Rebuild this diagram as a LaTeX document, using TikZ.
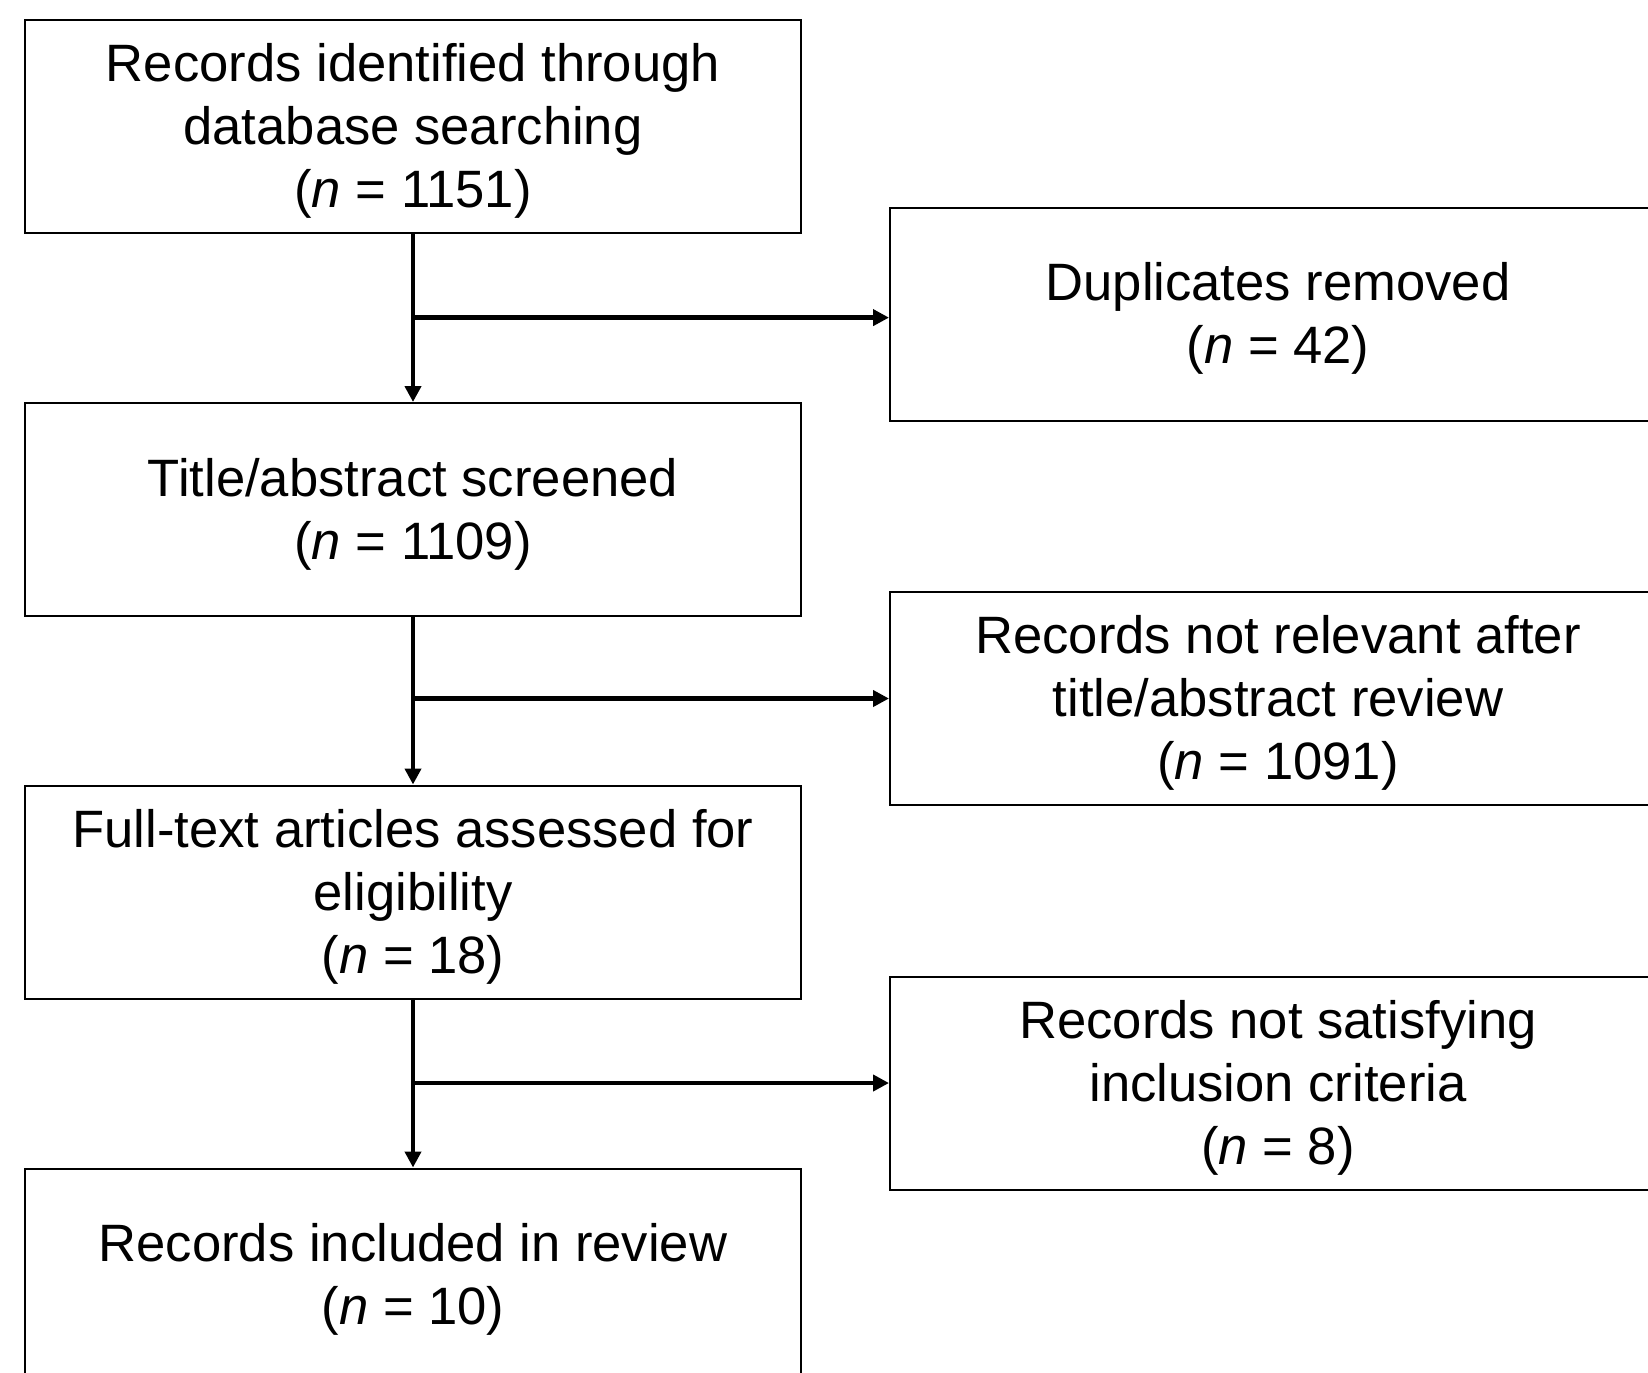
\documentclass[tikz,border=0pt]{standalone}
\usepackage{fontspec}
\setmainfont{Liberation Sans}
\usetikzlibrary{arrows.meta}
\begin{document}
\begin{tikzpicture}[x=0.5pt,y=-0.5pt,
  boxnode/.style={draw=black, line width=1pt, fill=white, minimum width=388pt, minimum height=106.5pt,
    inner sep=0pt},
  boxtext/.style={align=center, inner sep=0pt, yshift=-2.4pt, font=\fontsize{26.3}{31.5}\selectfont},
  flow/.style={line width=2.4pt, -{Triangle[length=8pt,width=8pt]}}]
\clip (0,0) rectangle (1648,1372);
\fill[white] (0,0) rectangle (1648,1372);
\node[boxnode, label={[boxtext]center:Records identified through\\database searching\\(\textit{n} = 1151)}] (b1) at (413,126.5) {};
\node[boxnode, label={[boxtext]center:Title/abstract screened\\(\textit{n} = 1109)}] (b2) at (413,509.5) {};
\node[boxnode, label={[boxtext]center:Full-text articles assessed for\\eligibility\\(\textit{n} = 18)}] (b3) at (413,892) {};
\node[boxnode, label={[boxtext]center:Records included in review\\(\textit{n} = 10)}] (b4) at (413,1275) {};
\node[boxnode, label={[boxtext]center:Duplicates removed\\(\textit{n} = 42)}] (r1) at (1278,314) {};
\node[boxnode, label={[boxtext]center:Records not relevant after\\title/abstract review\\(\textit{n} = 1091)}] (r2) at (1278,698.5) {};
\node[boxnode, label={[boxtext]center:Records not satisfying\\inclusion criteria\\(\textit{n} = 8)}] (r3) at (1278,1083) {};
\coordinate (t1) at ([yshift=-1.8pt]r1.west);
\coordinate (j1) at (b1.south |- t1);
\coordinate (j2) at (b2.south |- r2.west);
\coordinate (j3) at (b3.south |- r3.west);
\draw[flow] (b1.south) -- (b2.north);
\draw[flow] (b2.south) -- (b3.north);
\draw[flow] (b3.south) -- (b4.north);
\draw[flow] (j1) -- (t1);
\draw[flow] (j2) -- (r2.west);
\draw[flow] (j3) -- (r3.west);
\end{tikzpicture}
\end{document}
